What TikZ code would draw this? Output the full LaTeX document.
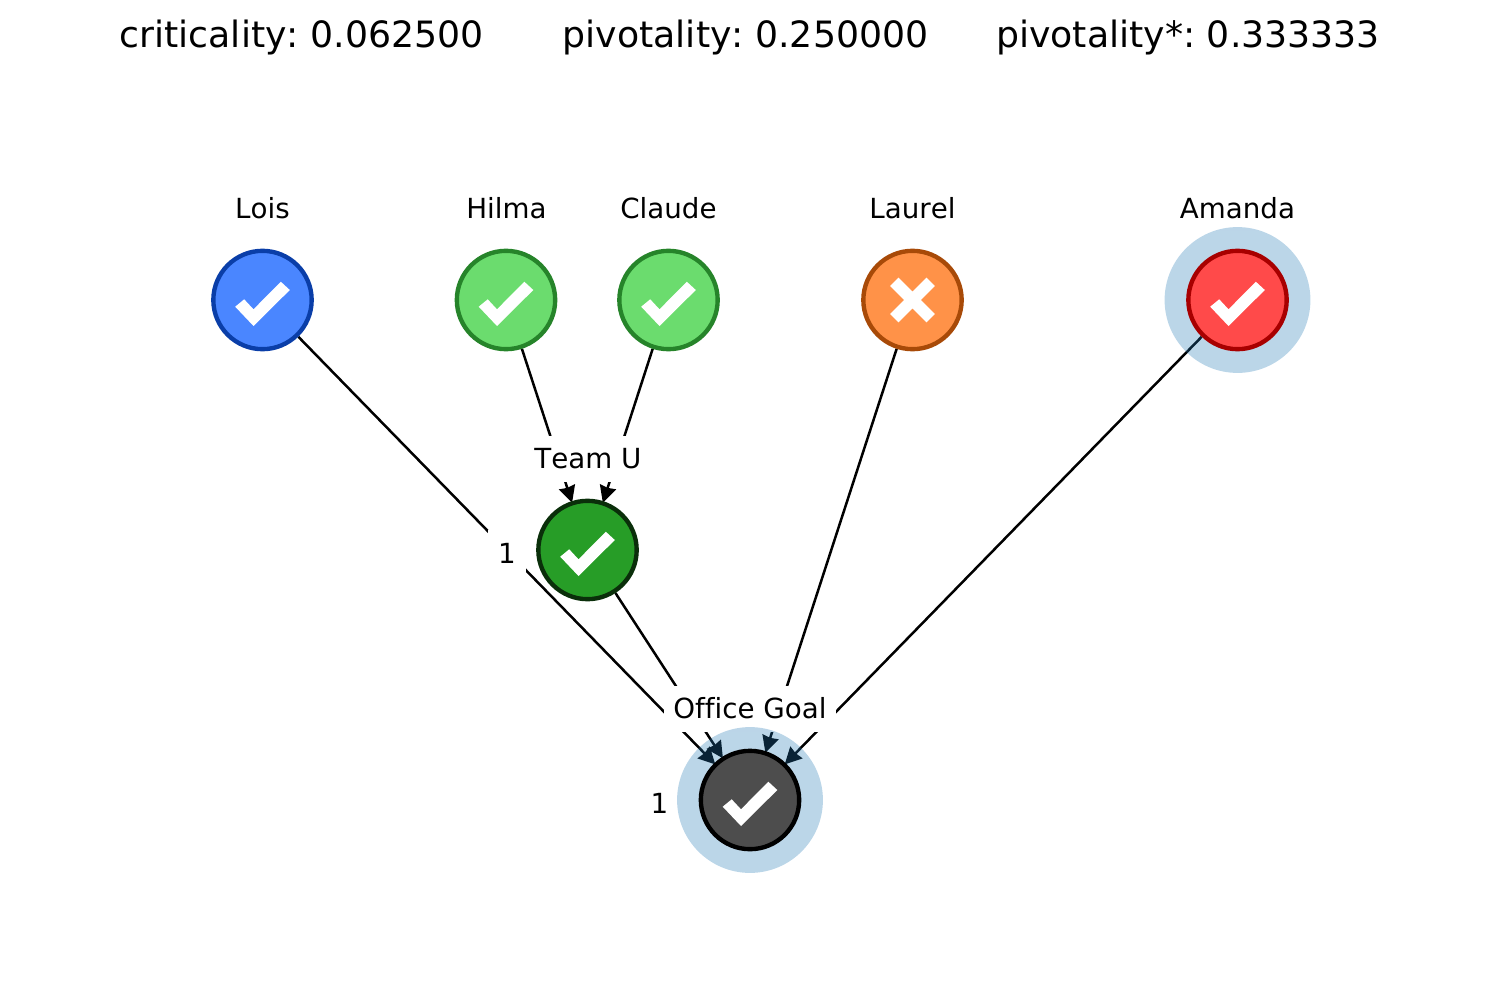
\documentclass[tikz,border=0pt]{standalone}
\usepackage{fontspec}
\setmainfont{DejaVu Sans}[Ligatures={NoCommon},Kerning=Off]
\usetikzlibrary{arrows.meta}
\pgfdeclarelayer{edgelayer}
\pgfdeclarelayer{boxlayer}
\pgfdeclarelayer{halolayer}
\pgfsetlayers{edgelayer,boxlayer,halolayer,main}
\definecolor{loisfill}{HTML}{4A86FF}\definecolor{loisedge}{HTML}{0A3EA8}
\definecolor{teamfill}{HTML}{6BDC6E}\definecolor{teamedge}{HTML}{26842A}
\definecolor{laurfill}{HTML}{FF9248}\definecolor{lauredge}{HTML}{A84A08}
\definecolor{amanfill}{HTML}{FF4A4A}\definecolor{amanedge}{HTML}{A80000}
\definecolor{ufill}{HTML}{279D27}\definecolor{uedge}{HTML}{0A2F0A}
\definecolor{goalfill}{HTML}{4D4D4D}
\definecolor{halocol}{HTML}{1F77B4}
\tikzset{
  x=0.48pt,y=-0.48pt,
  vertexnode/.style={circle,draw,line width=2.1pt,minimum size=47.2pt,inner sep=0pt},
  halonode/.style={circle,fill=halocol,fill opacity=0.3,minimum size=70pt,inner sep=0pt,outer sep=0pt},
  edgeline/.style={line width=1.2pt,shorten >=-0.8pt,-{Stealth[length=8pt,width=8pt,inset=0.5pt]}},
  namelabel/.style={fill=white,font=\fontsize{13.3}{16}\selectfont,minimum height=22pt,inner sep=0pt,outer sep=0pt},
  titletext/.style={font=\fontsize{17.4}{20}\selectfont,anchor=base,inner sep=0pt},
  checkmark/.pic={\fill[white] (-27.3,6.7)--(-18.3,-0.7)--(-9,9.3)--(18.3,-18.3)--(27.3,-10)--(-9,26)--cycle;},
  crossmark/.pic={\fill[white] (-14,-22.3)--(0,-8.3)--(14,-22.3)--(22.3,-14)--(8.3,0)--(22.3,14)--(14,22.3)--(0,8.3)--(-14,22.3)--(-22.3,14)--(-8.3,0)--(-22.3,-14)--cycle;},
}
\begin{document}
\frenchspacing
\begin{tikzpicture}
\useasboundingbox (0,0) rectangle (1500,1000);
\node[titletext] (tcrit) at (301.5,48) {criticality: 0.062500};
\node[titletext] (tpiv) at (745.5,48) {pivotality: 0.250000};
\node[titletext] (tpivs) at (1188,48) {pivotality*: 0.333333};

\node[vertexnode,fill=loisfill,draw=loisedge] (lois) at (262.5,300) {};
\node[vertexnode,fill=teamfill,draw=teamedge] (hilma) at (506,300) {};
\node[vertexnode,fill=teamfill,draw=teamedge] (claude) at (668.5,300) {};
\node[vertexnode,fill=laurfill,draw=lauredge] (laurel) at (912.5,300) {};
\node[vertexnode,fill=amanfill,draw=amanedge] (amanda) at (1237.5,300) {};
\node[vertexnode,fill=ufill,draw=uedge] (teamu) at (587.5,550) {};
\node[vertexnode,fill=goalfill,draw=black] (goal) at (750,800) {};

\pic at (lois) {checkmark};
\pic at (hilma) {checkmark};
\pic at (claude) {checkmark};
\pic at (laurel) {crossmark};
\pic at (amanda) {checkmark};
\pic at (teamu) {checkmark};
\pic at (goal) {checkmark};

\begin{pgfonlayer}{halolayer}
\node[halonode] (haloa) at (amanda) {};
\node[halonode] (halog) at (goal) {};
\end{pgfonlayer}

\begin{pgfonlayer}{boxlayer}
\node[namelabel] (llois) at (262.5,208) {Lois};
\node[namelabel] (lhilma) at (506.5,208) {Hilma};
\node[namelabel] (lclaude) at (668.5,208) {Claude};
\node[namelabel] (llaurel) at (912.5,208) {Laurel};
\node[namelabel] (lamanda) at (1237.5,208) {Amanda};
\node[namelabel,minimum width=60pt] (lteam) at (588,458.6) {Team U};
\node[namelabel,minimum width=82.5pt] (lgoal) at (750,708.6) {Office Goal};
\node[namelabel,minimum width=18pt] (lone) at (507,553) {1};
\node[namelabel,minimum width=18pt] (ltwo) at (659.5,803) {1};
\end{pgfonlayer}

\begin{pgfonlayer}{edgelayer}
\draw[edgeline] (lois) -- (goal);
\draw[edgeline] (hilma) -- (teamu);
\draw[edgeline] (claude) -- (teamu);
\draw[edgeline] (laurel) -- (goal);
\draw[edgeline] (amanda) -- (goal);
\draw[edgeline] (teamu) -- (goal);
\end{pgfonlayer}
\end{tikzpicture}
\end{document}
